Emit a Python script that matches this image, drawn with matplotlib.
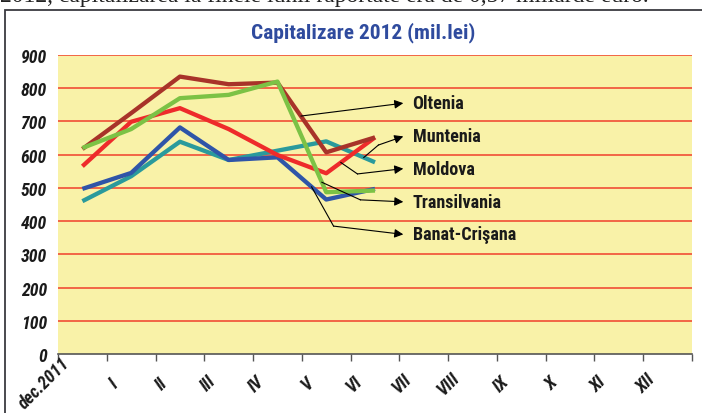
import numpy as np
import matplotlib.pyplot as plt
import matplotlib.transforms as mtransforms
from matplotlib import font_manager
from matplotlib.patches import Rectangle

# categories (months) and series values, mil. lei
months = ['dec.2011', 'I', 'II', 'III', 'IV', 'V', 'VI',
          'VII', 'VIII', 'IX', 'X', 'XI', 'XII']
oltenia = [617, 725, 835, 812, 817, 607, 652]
muntenia = [460, 535, 639, 584, 612, 640, 577]
moldova = [565, 699, 740, 677, 599, 544, 652]
transilvania = [620, 677, 770, 780, 820, 487, 492]
banat_crisana = [497, 545, 682, 584, 592, 465, 497]

title = 'Capitalizare 2012 (mil.lei)'
top_text = '2012, capitalizarea la finele lunii raportate era de 0,57 miliarde euro.'


def heavy(f):
    return f.weight == 'bold' or (isinstance(f.weight, int) and f.weight >= 700)


# pick an Arial Narrow lookalike, preferably with a bold italic face
fonts = font_manager.fontManager.ttflist
bold_names = {f.name for f in fonts if heavy(f)}
bold_italic = {f.name for f in fonts if heavy(f) and f.style in ('italic', 'oblique')}
candidates = ['Liberation Sans Narrow', 'Arial Narrow', 'Nimbus Sans Narrow',
              'Roboto Condensed', 'Asap Condensed', 'Barlow Semi Condensed',
              'PT Sans Narrow']
narrow = 'Liberation Sans'
for pool in (bold_italic, bold_names):
    found = [c for c in candidates if c in pool]
    if found:
        narrow = found[0]
        break
family = [narrow, 'DejaVu Sans']

fig = plt.figure(figsize=(7.02, 4.14), dpi=100)
fig.patch.set_facecolor('white')


def fit_width(t, target_px):
    # scale a text's size so its rendered width matches the reference
    r = fig.canvas.get_renderer()
    w = t.get_window_extent(r).width
    t.set_fontsize(t.get_fontsize() * target_px / w)
    return t.get_fontsize()


# frame around the chart
fig.patches.append(Rectangle((5 / 702, -0.1), 1.2, 1 - 11 / 414 + 0.1,
                             transform=fig.transFigure, fill=False,
                             edgecolor='#3a3a40', lw=1.3))
# cut-off line of the document text above the chart
fig.text(0.0, 1 - 2 / 414, top_text, family='Liberation Serif',
         fontsize=17, va='baseline', ha='left', color='#222222')

ax = fig.add_axes([58 / 702, 1 - 355 / 414, 634 / 702, 299 / 414])
ax.set_facecolor('#f9f2a8')

x = np.arange(len(oltenia))
series = [
    ('Muntenia', muntenia, '#2a9a9c'),
    ('Banat-Crişana', banat_crisana, '#2f55a8'),
    ('Moldova', moldova, '#ee2b2b'),
    ('Oltenia', oltenia, '#a83329'),
    ('Transilvania', transilvania, '#7cc245'),
]
for name, vals, col in series:
    ax.plot(x, vals, color=col, lw=3.1, solid_capstyle='butt', zorder=3)

ax.set_xlim(-0.5, len(months) - 0.5)
ax.set_ylim(0, 900)

# red horizontal gridlines
for v in range(100, 1000, 100):
    ax.axhline(v, color='#f0402c', lw=1.1, zorder=1)

# font sizes fitted on sample strings
probe = fig.text(0, 0, '900', family=family, fontsize=12, fontweight='bold', style='italic')
size_tick = fit_width(probe, 26)
probe.remove()
probe = fig.text(0, 0, 'Banat-Crişana', family=family, fontsize=12, fontweight='bold')
size_lab = fit_width(probe, 104)
probe.remove()

ax.set_yticks(range(0, 1000, 100))
ax.set_yticklabels([str(v) for v in range(0, 1000, 100)], family=family,
                   fontsize=size_tick, fontweight='bold', style='italic')
ax.tick_params(axis='y', length=0, pad=8, colors='#1a1a1a')

ax.set_xticks(np.arange(-0.5, len(months), 1))
ax.set_xticklabels([])
ax.tick_params(axis='x', which='major', length=5, width=1, color='#555555', direction='out')

# rotated month labels below the axis
lab_tr = mtransforms.offset_copy(ax.get_xaxis_transform(), fig=fig,
                                 x=-9, y=-29, units='dots')
for i, m in enumerate(months):
    ax.text(i, 0, m, transform=lab_tr, rotation=45, ha='right', va='center',
            family=family, fontsize=size_tick, fontweight='bold', style='italic',
            color='#1a1a1a', clip_on=False)

for s in ['top', 'right', 'left']:
    ax.spines[s].set_visible(False)
ax.spines['bottom'].set_color('#555555')
ax.spines['bottom'].set_linewidth(1.2)
ax.spines['bottom'].set_zorder(4)

t = fig.text(363 / 702, 1 - 33 / 414, title, family=family, fontsize=15,
             fontweight='bold', color='#2f4b9e', ha='center', va='center')
fit_width(t, 224)

# leader lines: (label, series, start x on line, bend point or None, label y)
leaders = [
    ('Oltenia', oltenia, 4.48, None, 755),
    ('Muntenia', muntenia, 5.77, (6.07, 629), 655),
    ('Moldova', moldova, 5.30, (5.64, 542), 558),
    ('Transilvania', transilvania, 4.91, (5.70, 464), 458),
    ('Banat-Crişana', banat_crisana, 4.70, (5.15, 385), 360),
]
tip_x = 6.58
for name, vals, sx, bend, ly in leaders:
    sy = np.interp(sx, x, vals)
    if bend is not None:
        ax.plot([sx, bend[0]], [sy, bend[1]], color='black', lw=0.8, zorder=5)
        start = bend
    else:
        start = (sx, sy)
    ax.annotate('', xy=(tip_x, ly), xytext=start,
                arrowprops=dict(arrowstyle='-|>', color='black', lw=0.8,
                                mutation_scale=13, shrinkA=0, shrinkB=0),
                zorder=5)
    ax.text(tip_x + 0.19, ly, name, family=family, fontsize=size_lab,
            fontweight='bold', color='#1a1a1a', va='center', ha='left', zorder=5)

fig.savefig('out.png', dpi=100)
